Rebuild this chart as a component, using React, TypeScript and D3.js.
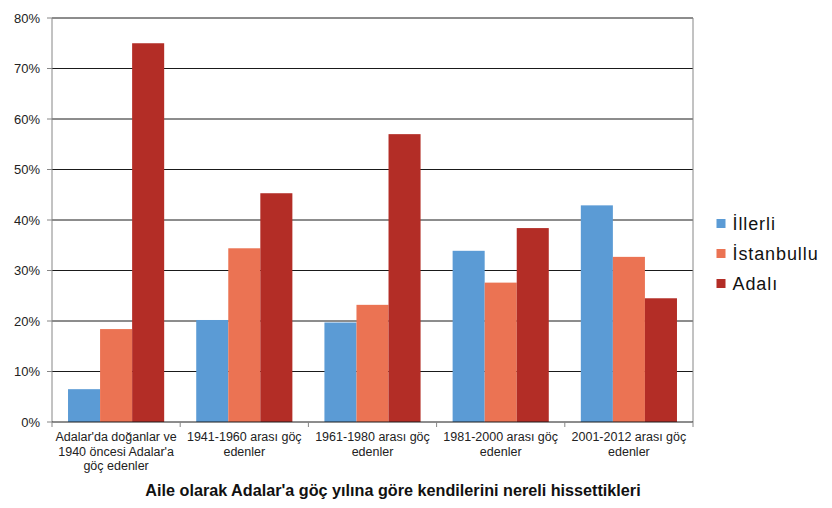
import React from "react";
import { scaleBand, scaleLinear } from "d3";

const categories = [
  ["Adalar'da doğanlar ve", "1940 öncesi Adalar'a", "göç edenler"],
  ["1941-1960 arası göç", "edenler"],
  ["1961-1980 arası göç", "edenler"],
  ["1981-2000 arası göç", "edenler"],
  ["2001-2012 arası göç", "edenler"],
];
const seriesNames = ["İllerli", "İstanbullu", "Adalı"];
const illerli = [6.5, 20.2, 19.7, 33.9, 42.9];
const istanbullu = [18.4, 34.4, 23.2, 27.6, 32.7];
const adali = [75.0, 45.3, 57.0, 38.4, 24.5];
const yTicks = [0, 10, 20, 30, 40, 50, 60, 70, 80];
const colors = ["#5B9BD5", "#EB7353", "#B32D26"];
const title = "Aile olarak Adalar'a göç yılına göre kendilerini nereli hissettikleri";

const W = 832;
const H = 508;
const m = { left: 52, right: 693, top: 18, bottom: 422 };
const font = "'Liberation Sans', Arial, sans-serif";

export default function App() {
  const series = [illerli, istanbullu, adali];

  const x = scaleBand<number>()
    .domain(categories.map((_, i) => i))
    .range([m.left, m.right]);

  const y = scaleLinear().domain([0, 80]).range([m.bottom, m.top]);

  const pad = x.bandwidth() / 8;
  const inner = scaleBand<number>()
    .domain(series.map((_, i) => i))
    .range([pad, x.bandwidth() - pad]);

  return (
    <svg
      width={W}
      height={H}
      style={{ position: "absolute", left: 0, top: 0, background: "#fff" }}
      fontFamily={font}
    >
      {/* grid */}
      {yTicks.map((t) => (
        <g key={t}>
          {t > 0 && (
            <line x1={m.left} x2={m.right} y1={y(t)} y2={y(t)} stroke="#1a1a1a" strokeWidth={1} />
          )}
          <line x1={m.left - 5} x2={m.left} y1={y(t)} y2={y(t)} stroke="#868686" />
          <text
            x={40}
            y={y(t)}
            textAnchor="end"
            dominantBaseline="central"
            fontSize={13}
            fill="#222"
          >
            {t}%
          </text>
        </g>
      ))}

      {/* bars */}
      {series.map((vals, s) =>
        vals.map((v, i) => (
          <rect
            key={s + "-" + i}
            x={(x(i) as number) + (inner(s) as number)}
            y={y(v)}
            width={inner.bandwidth()}
            height={y(0) - y(v)}
            fill={colors[s]}
          />
        ))
      )}

      {/* axes */}
      <line x1={m.left} x2={m.left} y1={m.top} y2={m.bottom} stroke="#868686" />
      <line x1={m.right} x2={m.right} y1={m.top} y2={m.bottom} stroke="#868686" />
      <line x1={m.left} x2={m.right} y1={m.bottom} y2={m.bottom} stroke="#1a1a1a" />
      {categories.map((_, i) => (
        <line
          key={i}
          x1={x(i) as number}
          x2={x(i) as number}
          y1={m.bottom}
          y2={m.bottom + 5}
          stroke="#868686"
        />
      ))}
      <line x1={m.right} x2={m.right} y1={m.bottom} y2={m.bottom + 5} stroke="#868686" />

      {/* category labels */}
      {categories.map((lines, i) => (
        <text
          key={i}
          x={(x(i) as number) + x.bandwidth() / 2}
          textAnchor="middle"
          fontSize={12.5}
          fill="#222"
        >
          {lines.map((l, j) => (
            <tspan key={j} x={(x(i) as number) + x.bandwidth() / 2} y={441 + j * 14.5}>
              {l}
            </tspan>
          ))}
        </text>
      ))}

      {/* title */}
      <text x={393} y={496} textAnchor="middle" fontSize={16.2} fontWeight="bold" fill="#111">
        {title}
      </text>

      {/* legend */}
      {seriesNames.map((n, i) => (
        <g key={n} transform={`translate(716.5, ${223.5 + i * 30})`}>
          <rect x={0} y={-4.5} width={9} height={9} fill={colors[i]} />
          <text
            x={16}
            y={0}
            dominantBaseline="central"
            fontSize={18}
            letterSpacing={0.9}
            fill="#111"
          >
            {n}
          </text>
        </g>
      ))}
    </svg>
  );
}
